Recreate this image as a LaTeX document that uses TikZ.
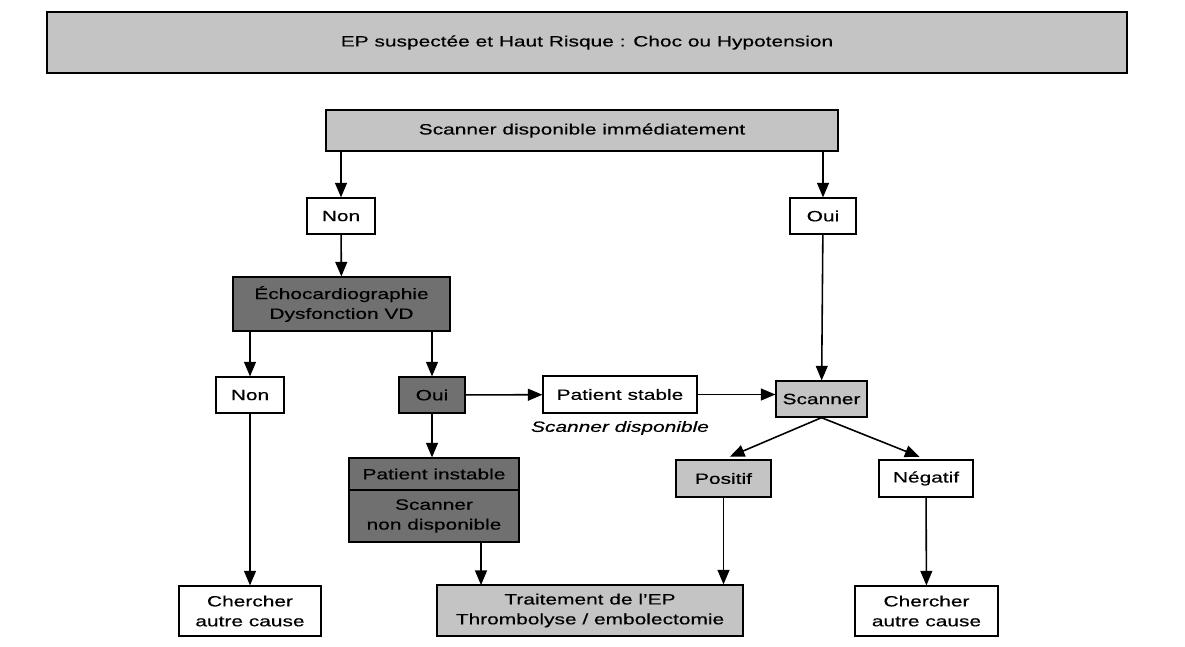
\documentclass[tikz,border=0pt]{standalone}
\usepackage{fontspec}
\setmainfont[FakeStretch=1.4, FakeBold=0.4]{Liberation Sans}
\usepackage{tikz}
\usetikzlibrary{shapes.geometric, arrows, positioning}
\definecolor{grislight}{RGB}{196,196,196}
\definecolor{grisdark}{RGB}{112,112,112}
\tikzstyle{arrow} = [line width=0.9pt,->,>=triangle 45]
\tikzstyle{boxwhite} = [rectangle, draw, line width=0.75pt, fill=white, inner sep=0pt, align=center]
\tikzstyle{boxlight} = [boxwhite, fill=grislight]
\tikzstyle{boxdark} = [boxwhite, fill=grisdark]

\begin{document}
\begin{tikzpicture}[x=0.02cm, y=-0.02cm, font=\fontsize{8.5}{11.3}\selectfont]
                \useasboundingbox (0,0) rectangle (1185,646);

                \node (titre) [boxlight, minimum width=21.6cm, minimum height=1.22cm] at (587,42.5) {EP suspectée et Haut Risque : Choc ou Hypotension};
                \node (dispo) [boxlight, minimum width=10.24cm, minimum height=0.82cm] at (582,130.5) {Scanner disponible immédiatement};
                \node (nonA) [boxwhite, minimum width=1.36cm, minimum height=0.72cm] at (341,216) {Non};
                \node (ouiA) [boxwhite, minimum width=1.32cm, minimum height=0.72cm] at (823,216) {Oui};
                \node (echo) [boxdark, minimum width=4.34cm, minimum height=1.08cm] at (341.5,304) {Échocardiographie\\Dysfonction VD};
                \node (nonB) [boxwhite, minimum width=1.36cm, minimum height=0.72cm] at (250,395) {Non};
                \node (ouiB) [boxdark, minimum width=1.32cm, minimum height=0.72cm] at (432,395) {Oui};
                \node (stable) [boxwhite, minimum width=3.08cm, minimum height=0.74cm] at (620,394.5) {Patient stable};
                \node (lblscan) at (620,428) {\itshape Scanner disponible};
                \node (scanner) [boxlight, minimum width=1.82cm, minimum height=0.72cm] at (821.5,399) {Scanner};
                \node (instable) [boxdark, minimum width=3.4cm, minimum height=0.64cm] at (434,474) {Patient instable};
                \node (nondispo) [boxdark, minimum width=3.4cm, minimum height=1.04cm] at (434,516) {Scanner\\non disponible};
                \node (positif) [boxlight, minimum width=1.9cm, minimum height=0.74cm] at (723.5,478.5) {Positif};
                \node (negatif) [boxwhite, minimum width=1.88cm, minimum height=0.74cm] at (926,478.5) {Négatif};
                \node (chercherA) [boxwhite, minimum width=2.84cm, minimum height=1.0cm] at (250,611) {Chercher\\autre cause};
                \node (traitement) [boxlight, minimum width=6.12cm, minimum height=1.02cm] at (590,610.5) {Traitement de l’EP\\Thrombolyse / embolectomie};
                \node (chercherB) [boxwhite, minimum width=2.86cm, minimum height=1.0cm] at (926.5,611) {Chercher\\autre cause};
                \coordinate (t1) at (481,585);

                \draw [arrow] (dispo.south -| nonA) -- (nonA.north);
                \draw [arrow] (dispo.south -| ouiA) -- (ouiA.north);
                \draw [arrow] (nonA) -- (echo);
                \draw [arrow] (echo.south -| nonB) -- (nonB.north);
                \draw [arrow] (echo.south -| ouiB) -- (ouiB.north);
                \draw [arrow] (ouiB) -- (stable);
                \draw [arrow] (stable.east) -- (stable.east -| scanner.west);
                \draw [arrow] (ouiA) -- (scanner);
                \draw [arrow] (ouiB) -- (ouiB |- instable.north);
                \draw [arrow, shorten >=4pt] (scanner.south) -- (positif.north);
                \draw [arrow, shorten >=4pt] (scanner.south) -- (negatif.north);
                \draw [arrow] (nonB) -- (chercherA);
                \draw [arrow] (nondispo.south -| t1) -- (t1);
                \draw [arrow] (positif.south) -- (positif.south |- traitement.north);
                \draw [arrow] (negatif) -- (chercherB);
            \end{tikzpicture}
\end{document}
